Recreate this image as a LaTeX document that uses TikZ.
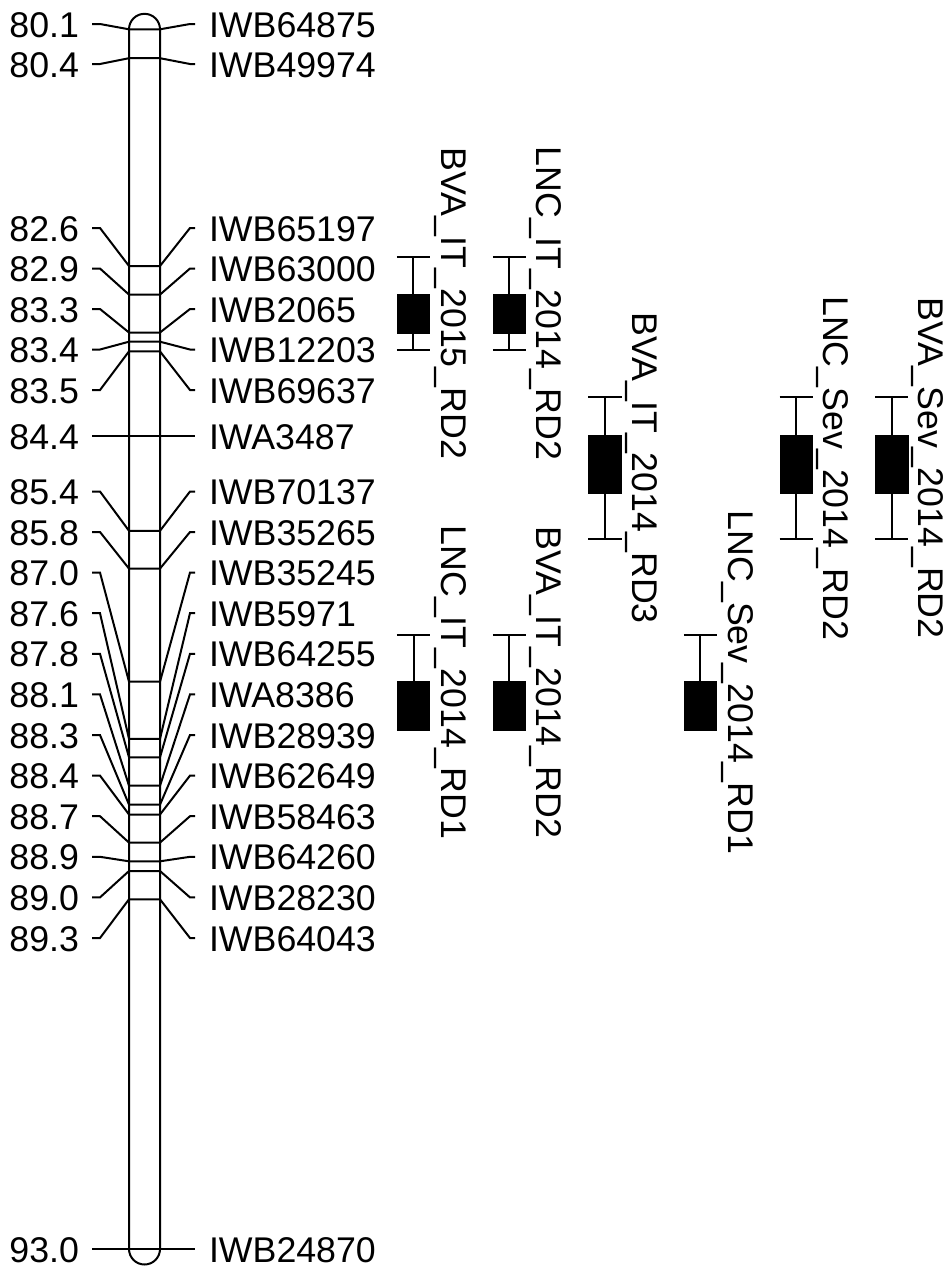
\documentclass[tikz,border=0pt]{standalone}
\usepackage{fontspec}
\setmainfont{Liberation Sans}
\begin{document}
\begin{tikzpicture}[x=0.75pt,y=-0.75pt,line width=1.5pt,
  txt/.style={font=\fontsize{26.8}{32}\selectfont,inner sep=0pt},
  numlbl/.style={txt,anchor=base east},
  mklbl/.style={txt,anchor=base west},
  qtllbl/.style={txt,anchor=base,rotate=-90},
  qtlbox/.style={fill=black,draw=black,line width=0.5pt,inner sep=0pt,minimum width=24.4pt},
  chrom/.style={draw=black,rounded corners=11.625pt}]
\useasboundingbox (0,0) rectangle (950,1268);
% chromosome
\draw[chrom] (129,13.8) rectangle (160,1264.5);
% markers
\foreach \num/\lab/\ly/\my [count=\i] in {
  80.1/IWB64875/24/29.3,
  80.4/IWB49974/64/58.2,
  82.6/IWB65197/228/266,
  82.9/IWB63000/268.5/294.6,
  83.3/IWB2065/309/332.5,
  83.4/IWB12203/349.5/341.7,
  83.5/IWB69637/390/351.4,
  84.4/IWA3487/436/436,
  85.4/IWB70137/491.5/530.8,
  85.8/IWB35265/532/568.6,
  87.0/IWB35245/572.6/681.7,
  87.6/IWB5971/613.2/738.8,
  87.8/IWB64255/653.8/757.3,
  88.1/IWA8386/694.4/785.7,
  88.3/IWB28939/735/804.6,
  88.4/IWB62649/775.6/814.5,
  88.7/IWB58463/816.2/842.6,
  88.9/IWB64260/856.8/861.3,
  89.0/IWB28230/897.4/871,
  89.3/IWB64043/938/899.3,
  93.0/IWB24870/1249/1249}
{
  \node[numlbl] (n\i) at (80,\ly+13) {\num};
  \node[mklbl] (m\i) at (208,\ly+13) {\lab};
  \coordinate (L\i) at (129,\my);
  \coordinate (R\i) at (160,\my);
  \coordinate (a\i) at (92,\ly);
  \coordinate (b\i) at (100,\ly);
  \coordinate (c\i) at (190,\ly);
  \coordinate (d\i) at (195,\ly);
  \draw (a\i) -- (b\i) -- (L\i) -- (R\i) -- (c\i) -- (d\i);
}
% QTL intervals
\foreach \cx/\wt/\bt/\bb/\wb/\tx/\lab [count=\j] in {
  413.3/256.7/294/333.3/350.3/441.7/BVA\_IT\_2015\_RD2,
  509.3/256.7/294/333.3/350.3/536.7/LNC\_IT\_2014\_RD2,
  605/397.3/435/493.3/539/632/BVA\_IT\_2014\_RD3,
  796.2/397.3/435/493.3/539/823.3/LNC\_Sev\_2014\_RD2,
  891.8/397.3/435/493.3/539/918.3/BVA\_Sev\_2014\_RD2,
  413.5/635/681.7/730/730/441.7/LNC\_IT\_2014\_RD1,
  509.3/635/681.7/730/730/536.7/BVA\_IT\_2014\_RD2,
  700.3/635/681.7/730/730/728.3/LNC\_Sev\_2014\_RD1}
{
  \coordinate (wt\j) at (\cx,\wt);
  \coordinate (wb\j) at (\cx,\wb);
  \draw (wt\j) -- (wb\j);
  \draw ([xshift=-12.4pt]wt\j) -- ([xshift=12.4pt]wt\j);
  \draw ([xshift=-12.4pt]wb\j) -- ([xshift=12.4pt]wb\j);
  \pgfmathsetmacro{\bh}{(\bb-\bt)*0.75}
  \node[qtlbox,minimum height=\bh pt] (box\j) at (\cx,{(\bt+\bb)/2}) {};
  \node[qtllbl] (q\j) at (\tx,{(\wt+\wb)/2}) {\lab};
}
\end{tikzpicture}
\end{document}
